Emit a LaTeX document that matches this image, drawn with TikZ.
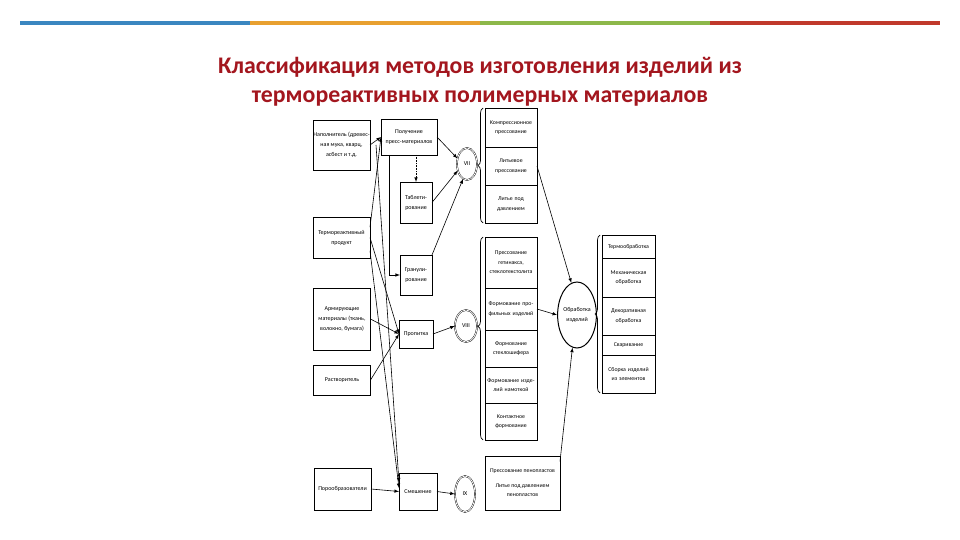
\documentclass[tikz,border=0pt]{standalone}
\usepackage{fontspec}
\setmainfont{Carlito}
\usetikzlibrary{positioning,arrows,shapes.geometric,decorations.pathreplacing}
\definecolor{barblue}{RGB}{58,134,192}
\definecolor{barorange}{RGB}{232,160,48}
\definecolor{bargreen}{RGB}{141,184,74}
\definecolor{barred}{RGB}{192,57,43}
\definecolor{titlered}{RGB}{163,22,30}
\tikzstyle{titlenode}=[align=center, text=titlered, font=\bfseries\fontsize{23.8}{29}\selectfont]
\tikzstyle{inbox}=[rectangle, draw, line width=0.9pt, align=center, inner sep=0pt, outer sep=0pt, minimum width=57pt, font=\fontsize{6}{10}\selectfont]
\tikzstyle{stepbox}=[rectangle, draw, line width=0.8pt, align=center, inner sep=0pt, outer sep=0pt, font=\fontsize{6}{10}\selectfont]
\tikzstyle{cellnode}=[rectangle, draw, line width=0.6pt, align=center, inner sep=0pt, outer sep=0pt, minimum width=52pt, text width=50pt, font=\fontsize{5.8}{9.5}\selectfont]
\tikzstyle{ringnode}=[ellipse, draw, double, double distance=0.8pt, inner sep=0pt, font=\fontsize{6}{8}\selectfont]
\tikzstyle{bracket}=[decorate, decoration={brace, amplitude=5pt}, line width=0.7pt]
\tikzstyle{flow}=[-latex, line width=0.6pt]

\begin{document}
\begin{tikzpicture}[x=1pt,y=-1pt]
\useasboundingbox (0,0) rectangle (960,540);
%Colour bar and title
\foreach \c [count=\i from 0] in {barblue,barorange,bargreen,barred}
  \draw[\c, line width=4pt] (20+230*\i,23) -- (250+230*\i,23);
\node[titlenode] (title) at (480,82) {Классификация методов изготовления изделий из\\термореактивных полимерных материалов};
%Raw materials
\node[inbox, minimum height=50pt] (nap)  at (341.5,145) {Наполнитель (древес-\\ная мука, кварц,\\асбест и т.д.};
\node[inbox, minimum height=41pt] (term) at (341.5,237.5) {Термореактивный\\продукт};
\node[inbox, minimum height=62pt] (arm)  at (342,319) {Армирующие\\материалы (ткань,\\волокно, бумага)};
\node[inbox, minimum height=30pt] (rast) at (342,380) {Растворитель};
\node[inbox, minimum height=42pt] (poro) at (342.5,489) {Порообразователи};
%Operations
\node[stepbox, minimum width=56pt, minimum height=36pt] (polu) at (409,137) {Получение\\пресс-материалов};
\node[stepbox, minimum width=32pt, minimum height=41pt] (tabl) at (416,202.5) {Таблети-\\рование};
\node[stepbox, minimum width=32pt, minimum height=40pt] (gran) at (416,275) {Гранули-\\рование};
\node[stepbox, minimum width=34pt, minimum height=28pt] (prop) at (416,334) {Пропитка};
\node[stepbox, minimum width=38pt, minimum height=37pt] (smes) at (418,491.5) {Смешение};
%Groups
\node[ringnode, minimum width=20pt, minimum height=32pt] (c7) at (467,164) {VII};
\node[ringnode, minimum width=22pt, minimum height=32pt] (c8) at (466,326) {VIII};
\node[ringnode, minimum width=20pt, minimum height=36pt] (c9) at (465,494) {IX};
%Group VII
\node[cellnode, minimum height=39pt] (g7a) at (511,127.5) {Компрессионное\\прессование};
\node[cellnode, minimum height=38pt] (g7b) [below=0pt of g7a] {Литьевое\\прессование};
\node[cellnode, minimum height=38pt] (g7c) [below=0pt of g7b] {Литье под\\давлением};
%Group VIII
\node[cellnode, minimum height=51pt] (g8a) at (511,262.5) {Прессование\\гетинакса,\\стеклотекстолита};
\node[cellnode, minimum height=42pt] (g8b) [below=0pt of g8a] {Формование про-\\фильных изделий};
\node[cellnode, minimum height=37pt] (g8c) [below=0pt of g8b] {Формование\\стеклошифера};
\node[cellnode, minimum height=36pt] (g8d) [below=0pt of g8c] {Формование изде-\\лий намоткой};
\node[cellnode, minimum height=37pt] (g8e) [below=0pt of g8d] {Контактное\\формование};
%Group IX
\node[stepbox, line width=0.6pt, minimum width=75pt, minimum height=54pt, font=\fontsize{5.8}{9.5}\selectfont] (g9) at (522.5,483) {Прессование пенопластов\\[5pt]Литье под давлением\\пенопластов};
%Finishing
\node[ellipse, draw, line width=1pt, minimum width=36pt, minimum height=66pt, inner sep=0pt, align=center, font=\fontsize{6}{10}\selectfont] (obr) at (577,315) {Обработка\\изделий};
\node[cellnode, minimum width=53pt, minimum height=23pt] (r1) at (628.5,246.5) {Термообработка};
\node[cellnode, minimum width=53pt, minimum height=39pt] (r2) [below=0pt of r1] {Механическая\\обработка};
\node[cellnode, minimum width=53pt, minimum height=38pt] (r3) [below=0pt of r2] {Декоративная\\обработка};
\node[cellnode, minimum width=53pt, minimum height=20pt] (r4) [below=0pt of r3] {Сваривание};
\node[cellnode, minimum width=53pt, minimum height=38pt] (r5) [below=0pt of r4] {Сборка изделий\\из элементов};
%Braces
\draw[bracket] ([xshift=-2pt]g7c.south west) -- ([xshift=-2pt]g7a.north west);
\draw[bracket, decoration={aspect=0.56}] ([xshift=-2pt]g8e.south west) -- ([xshift=-2pt]g8a.north west);
\draw[bracket] ([xshift=-2pt]r5.south west) -- ([xshift=-2pt]r1.north west);
%Lines
\draw[flow] (nap.east) -- (polu.west);
\draw[flow] ([xshift=6pt]nap.east) -- (smes.155);
\draw[flow] (term.20) -- (polu.west);
\draw[flow] (term.east) -- (prop.west);
\draw[flow] (term.-25) -- (smes.170);
\draw[flow] (arm.east) -- (prop.west);
\draw[flow] (rast.east) -- (prop.west);
\draw[flow] (poro.east) -- (smes.west);
\draw[flow, densely dotted] (tabl.north |- polu.south) -- (tabl.north);
\draw[flow] ([xshift=-20pt]polu.south) |- (gran.west);
\draw[flow] (polu.east) -- (c7.150);
\draw[flow] (tabl.east) -- (c7.215);
\draw[flow] (gran.north east) -- (c7.255);
\draw[flow] (prop.east) -- (c8.west);
\draw[flow] (smes.east) -- (c9.west);
\draw[flow] (g7b.east) -- (obr.100);
\draw[flow] (g8b.east) -- (obr.west);
\draw[flow] (g9.30) -- (obr.262);
\end{tikzpicture}
\end{document}
